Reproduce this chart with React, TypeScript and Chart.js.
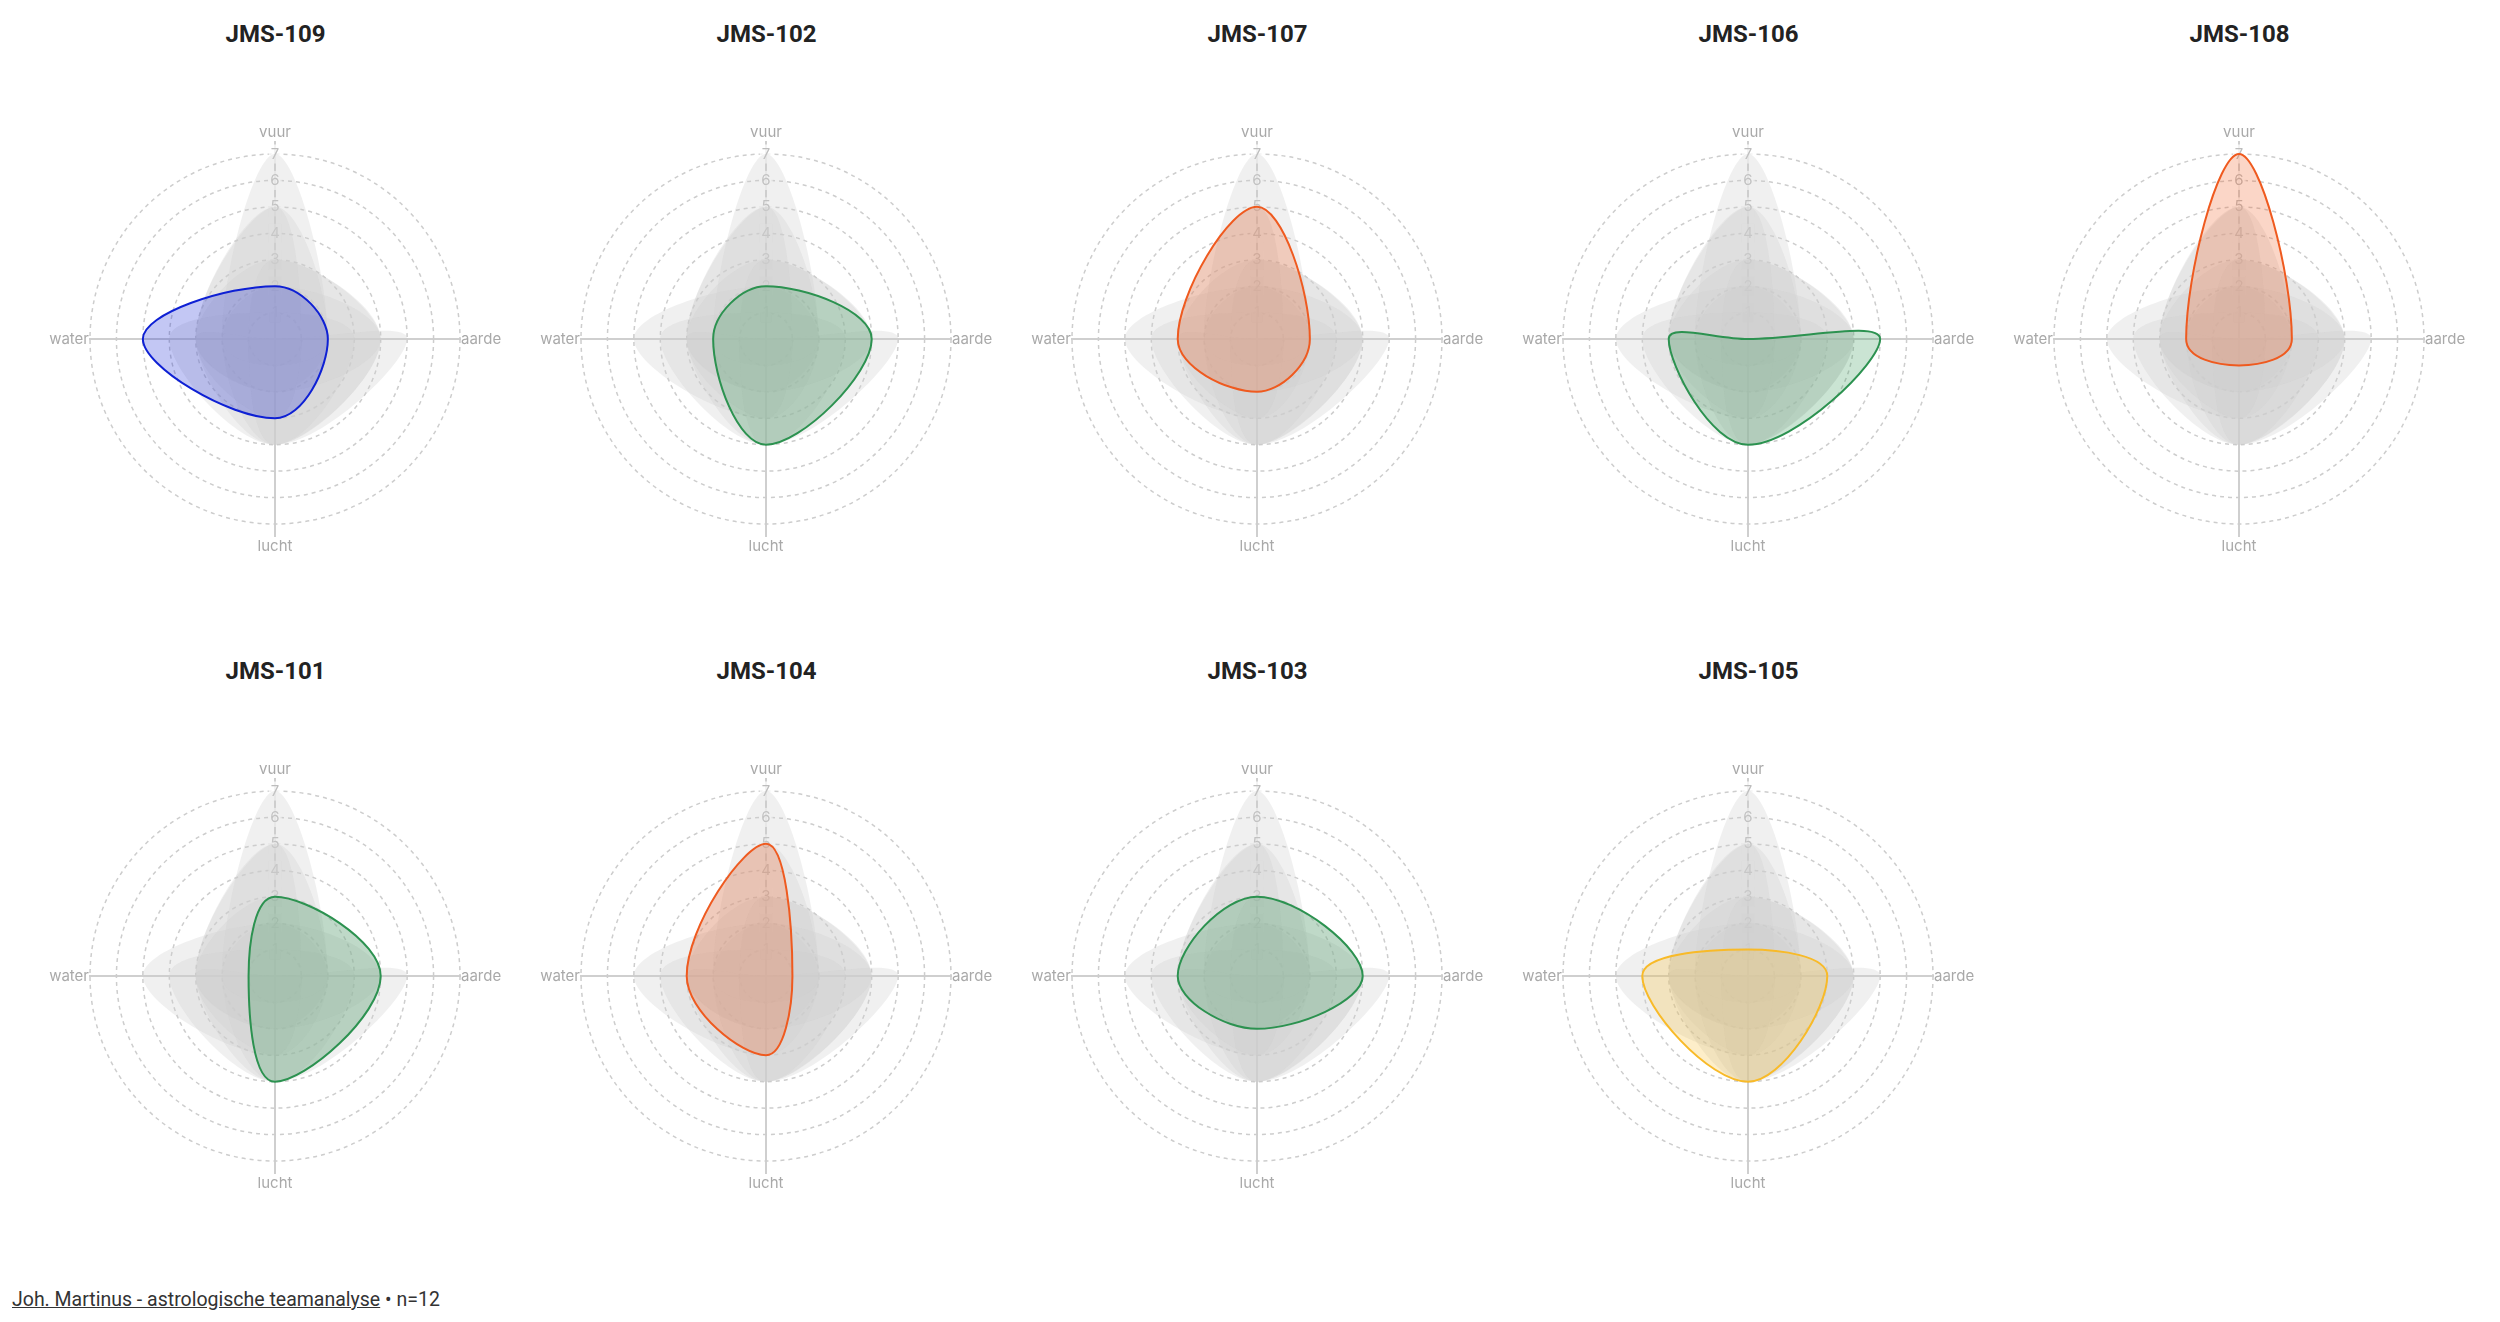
import React, { useEffect, useRef } from 'react';
import { Chart, registerables } from 'chart.js';

Chart.register(...registerables);

// ---- data ----
const axisLabels = ['vuur', 'aarde', 'lucht', 'water'];
const tickLabels = ['0', '1', '2', '3', '4', '5', '6', '7'];
const personNames = ['JMS-109', 'JMS-102', 'JMS-107', 'JMS-106', 'JMS-108', 'JMS-101', 'JMS-104', 'JMS-103', 'JMS-105'];
const jms109 = [2, 2, 3, 5];
const jms102 = [2, 4, 4, 2];
const jms107 = [5, 2, 2, 3];
const jms106 = [0, 5, 4, 3];
const jms108 = [7, 2, 1, 2];
const jms101 = [3, 4, 4, 1];
const jms104 = [5, 1, 3, 3];
const jms103 = [3, 4, 2, 3];
const jms105 = [1, 3, 4, 4];
const personValues = [jms109, jms102, jms107, jms106, jms108, jms101, jms104, jms103, jms105];
const personElement = ['water', 'aarde', 'vuur', 'aarde', 'vuur', 'aarde', 'vuur', 'aarde', 'lucht'];

const elementColors: Record<string, [number, number, number]> = {
  vuur: [239, 90, 31],
  aarde: [44, 146, 80],
  lucht: [248, 186, 40],
  water: [14, 32, 212],
};

const FONT = 'Inter, "Noto Sans", sans-serif';
const TICK_SIZE = 15;
const EXTRA = (TICK_SIZE + 4) / 2;
const labelPad = (i: number) => (i % 2 === 0 ? 3.5 : -8.5);

const axisLinePlugin = {
  id: 'axisLines',
  beforeDraw(chart: any) {
    const s = chart.scales.r;
    if (!s) return;
    const ctx = chart.ctx;
    ctx.save();
    ctx.strokeStyle = '#cfcfcf';
    ctx.lineWidth = 2;
    for (let i = 0; i < axisLabels.length; i++) {
      const p = s.getPointPosition(i, s.drawingArea + EXTRA + labelPad(i));
      ctx.beginPath();
      ctx.moveTo(s.xCenter, s.yCenter);
      ctx.lineTo(p.x, p.y);
      ctx.stroke();
    }
    ctx.restore();
  },
};

function RadarCell({ index }: { index: number }) {
  const ref = useRef<HTMLCanvasElement | null>(null);
  useEffect(() => {
    if (!ref.current) return;
    const [r, g, b] = elementColors[personElement[index]];
    const greys = personValues
      .map((vals, k) => ({ vals, k }))
      .filter((o) => o.k !== index)
      .map((o) => ({
        label: personNames[o.k],
        data: o.vals,
        backgroundColor: 'rgba(204,204,204,0.3)',
        borderWidth: 0,
        borderColor: 'rgba(0,0,0,0)',
        fill: true,
        tension: 0.4,
        pointRadius: 0,
        order: 2,
      }));
    const main = {
      label: personNames[index],
      data: personValues[index],
      backgroundColor: `rgba(${r},${g},${b},0.25)`,
      borderColor: `rgb(${r},${g},${b})`,
      borderWidth: 2,
      fill: true,
      tension: 0.4,
      pointRadius: 0,
      order: 1,
    };
    const chart = new Chart(ref.current, {
      type: 'radar',
      data: { labels: axisLabels, datasets: [main, ...greys] },
      options: {
        responsive: false,
        animation: false,
        events: [],
        layout: { padding: { top: 63, bottom: 89, left: 0, right: 0 } },
        plugins: { legend: { display: false }, tooltip: { enabled: false } },
        scales: {
          r: {
            min: 0,
            max: 7,
            angleLines: { display: false },
            grid: { circular: true, color: '#cdcdcd', lineWidth: 1.5 },
            border: { dash: [4, 4] },
            ticks: {
              stepSize: 1,
              color: '#bdbdbd',
              font: { family: FONT, size: TICK_SIZE },
              backdropColor: 'rgba(255,255,255,0.75)',
              backdropPadding: 2,
              callback: (v: any) => tickLabels[Number(v)] ?? '',
            },
            pointLabels: {
              color: '#a9a9a9',
              font: { family: FONT, size: 15 },
              padding: (c: any) => labelPad(c.index),
            },
          },
        },
      },
      plugins: [axisLinePlugin],
    });
    return () => chart.destroy();
  }, [index]);
  return (
    <div style={{ width: 491, height: 637, flex: '0 0 491px' }}>
      <div
        style={{
          height: 52,
          lineHeight: '52px',
          textAlign: 'center',
          fontFamily: 'Roboto, sans-serif',
          fontWeight: 700,
          fontSize: 24,
          color: '#222',
        }}
      >
        {personNames[index]}
      </div>
      <canvas ref={ref} width={491} height={585} style={{ display: 'block', width: 491, height: 585 }} />
    </div>
  );
}

export default function App() {
  const row1 = [0, 1, 2, 3, 4];
  const row2 = [5, 6, 7, 8];
  return (
    <div style={{ position: 'relative', marginLeft: 22, width: 2470 }}>
      <div style={{ display: 'flex' }}>
        {row1.map((i) => (
          <RadarCell key={i} index={i} />
        ))}
      </div>
      <div style={{ display: 'flex' }}>
        {row2.map((i) => (
          <RadarCell key={i} index={i} />
        ))}
      </div>
      <div
        style={{
          marginLeft: -18,
          height: 36,
          lineHeight: '36px',
          fontFamily: 'Roboto, sans-serif',
          fontSize: 19.5,
          color: '#333',
        }}
      >
        <a href="#" style={{ color: '#333', textDecoration: 'underline' }}>
          Joh. Martinus - astrologische teamanalyse
        </a>{' '}
        • n=12
      </div>
    </div>
  );
}
